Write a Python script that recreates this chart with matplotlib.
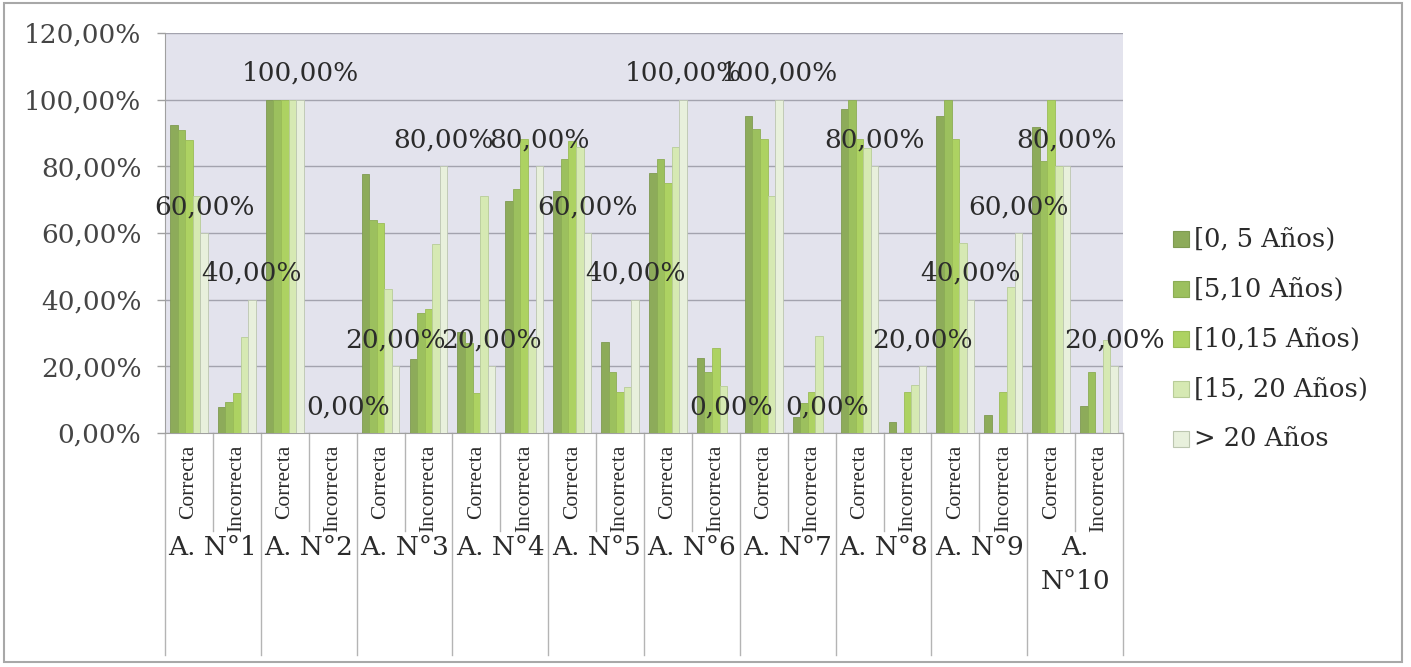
import numpy as np
import matplotlib.pyplot as plt
from matplotlib.patches import Rectangle
from matplotlib.transforms import blended_transform_factory

# Aciertos por antigüedad laboral, pregunta a pregunta (en %)
preguntas = ['A. N°1', 'A. N°2', 'A. N°3', 'A. N°4', 'A. N°5',
             'A. N°6', 'A. N°7', 'A. N°8', 'A. N°9', 'A.\nN°10']
respuestas = ['Correcta', 'Incorrecta']
series = ['[0, 5 Años)', '[5,10 Años)', '[10,15 Años)', '[15, 20 Años)', '> 20 Años']

# cada lista: Correcta / Incorrecta alternadas para A. N°1 ... A. N°10
anios_0_5 = [92.3, 7.7, 100, 0, 77.7, 22.1, 30.3, 69.7, 72.6, 27.4,
             77.9, 22.4, 95.1, 4.9, 97.1, 3.4, 95.1, 5.4, 91.9, 8.1]
anios_5_10 = [90.8, 9.2, 100, 0, 63.9, 36.1, 26.9, 73.1, 82.1, 18.4,
              82.1, 18.4, 91.1, 8.9, 100, 0, 100, 0, 81.6, 18.4]
anios_10_15 = [87.9, 12.1, 100, 0, 62.9, 37.1, 12.1, 88.1, 87.7, 12.4,
               75.1, 25.4, 88.1, 12.4, 88.1, 12.4, 88.1, 12.4, 100, 0]
anios_15_20 = [71.1, 28.9, 100, 0, 43.1, 56.7, 71.1, 28.9, 85.7, 13.9,
               85.9, 14.1, 71.1, 29.1, 85.4, 14.4, 57.1, 43.7, 80, 28]
mas_20 = [60, 40, 100, 0, 20, 80, 20, 80, 60, 40,
          100, 0, 100, 0, 80, 20, 40, 60, 80, 20]

valores = [anios_0_5, anios_5_10, anios_10_15, anios_15_20, mas_20]
colores = ['#8dab5a', '#9cc05e', '#add262', '#d6e9b3', '#e8f0dc']
bordes = ['#7f9a52', '#8cad55', '#9bbd58', '#b8cc98', '#bcc6b0']

W, H = 1411, 667
fig = plt.figure(figsize=(W / 100, H / 100), dpi=100)
fig.patch.set_facecolor('white')

# marco del área del gráfico
fig.add_artist(Rectangle((4 / W, 5 / H), 1398 / W, 659 / H, transform=fig.transFigure,
                         fill=False, edgecolor='#a8a8a8', lw=1.5))

ax = fig.add_axes([165 / W, 1 - 433 / H, 958 / W, 400 / H])
ax.set_facecolor('#e3e3ed')

n = len(anios_0_5)
x = np.arange(n)
ancho = 0.158
for i, (vals, c, b) in enumerate(zip(valores, colores, bordes)):
    ax.bar(x + (i - 2) * ancho, vals, ancho, color=c, edgecolor=b, lw=0.6,
           label=series[i], zorder=3)

# etiquetas de datos de la última serie
for xi, v in zip(x, mas_20):
    txt = f'{v:.2f}%'.replace('.', ',')
    ax.annotate(txt, (xi + 2 * ancho, v), xytext=(0, 19), textcoords='offset points',
                ha='center', va='center', fontsize=19, family='DejaVu Serif',
                color='#2b2b2b', zorder=5, annotation_clip=False)

ax.set_xlim(-0.5, n - 0.5)
ax.set_ylim(0, 120)
ax.set_yticks(np.arange(0, 121, 20))
ax.set_yticklabels([f'{t:.2f}%'.replace('.', ',') for t in np.arange(0, 121, 20)],
                   fontsize=19, family='DejaVu Serif', color='#454545')
ax.yaxis.grid(True, color='#a3a3ae', lw=1.0, zorder=0)
ax.tick_params(axis='y', length=6, width=1, color='#a0a0a0', pad=11)
ax.tick_params(axis='x', length=0, labelbottom=False)
for s in ['top', 'right']:
    ax.spines[s].set_visible(False)
for s in ['left', 'bottom']:
    ax.spines[s].set_color('#a0a0a0')

# ejes de categorías en dos niveles
tr = blended_transform_factory(ax.transData, ax.transAxes)
for k in range(n + 1):
    fondo = -0.555 if k % 2 == 0 else -0.245
    ax.plot([k - 0.5, k - 0.5], [0, fondo], transform=tr, color='#b4b4b4',
            lw=1, clip_on=False)
for k in range(n):
    ax.text(k, -0.03, respuestas[k % 2], transform=tr, rotation=90, ha='center',
            va='top', fontsize=15.5, family='Liberation Serif', color='#2b2b2b')
for j, p in enumerate(preguntas):
    ax.text(2 * j + 0.5, -0.255, p, transform=tr, ha='center', va='top',
            fontsize=19, family='DejaVu Serif', color='#2b2b2b', linespacing=1.45)

# leyenda
for i, (s, c, b) in enumerate(zip(series, colores, bordes)):
    yc = 239 + 50 * i
    fig.add_artist(Rectangle((1173 / W, 1 - (yc + 8) / H), 16 / W, 16 / H,
                             transform=fig.transFigure, facecolor=c, edgecolor=b, lw=0.8))
    fig.text(1194 / W, 1 - yc / H, s, ha='left', va='center', fontsize=18.5,
             family='DejaVu Serif', color='#2b2b2b')

fig.savefig('out.png', dpi=100)
